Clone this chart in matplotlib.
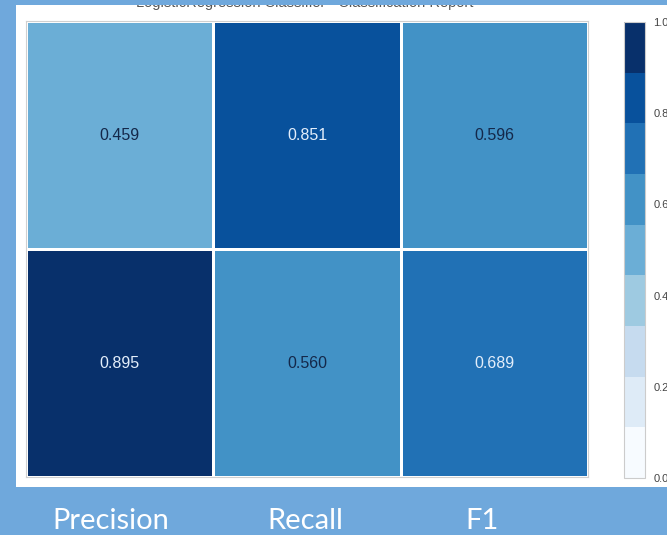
import matplotlib
matplotlib.use("Agg")
import matplotlib.pyplot as plt
from matplotlib.colors import ListedColormap, Normalize
from matplotlib.patches import Rectangle
import numpy as np

# classification report scores (rows = classes, columns = metrics)
metrics = ["Precision", "Recall", "F1"]
classes = ["0", "1"]
scores = [
    [0.459, 0.851, 0.596],
    [0.895, 0.560, 0.689],
]
cbar_ticks = [0.0, 0.2, 0.4, 0.6, 0.8, 1.0]
title = "LogisticRegression Classifier - Classification Report"

# 9-step ColorBrewer Blues
blues9 = ["#f7fbff", "#deebf7", "#c6dbef", "#9ecae1", "#6baed6",
          "#4292c6", "#2171b5", "#08519c", "#08306b"]
cmap = ListedColormap(blues9)
norm = Normalize(vmin=0.0, vmax=1.0)

W, H = 667, 535
fig = plt.figure(figsize=(W / 100, H / 100), dpi=100)
slide_blue = "#6fa8dc"
fig.patch.set_facecolor(slide_blue)


def box(x0, y0, x1, y1):
    """Pixel box (top-left origin) -> figure-fraction rect."""
    return [x0 / W, 1 - y1 / H, (x1 - x0) / W, (y1 - y0) / H]


# white panel holding the report
fig.add_artist(Rectangle((16 / W, 1 - 487 / H), 1.0, (487 - 5) / H,
                         transform=fig.transFigure, facecolor="white",
                         edgecolor="none", zorder=-1))

# report title, mostly hidden under the slide border
fig.text(305 / W, 1 - 7 / H, title, ha="center", va="baseline",
         fontsize=10.5, color="#555555", family="Liberation Sans", zorder=1)
fig.add_artist(Rectangle((0, 1 - 5 / H), 1.0, 5 / H, transform=fig.transFigure,
                         facecolor=slide_blue, edgecolor="none", zorder=10))

# heatmap
ax = fig.add_axes(box(26, 21, 588, 477))
data = np.array(scores)
mesh = ax.pcolormesh(data, cmap=cmap, norm=norm, edgecolors="white",
                     linewidth=2)
ax.set_xlim(0, len(metrics))
ax.set_ylim(len(classes), 0)
ax.set_xticks([])
ax.set_yticks([])
for sp in ax.spines.values():
    sp.set_edgecolor("#d0d0d0")
    sp.set_linewidth(0.8)

for i in range(len(classes)):
    for j in range(len(metrics)):
        v = scores[i][j]
        color = "#e3eefb" if v > 0.65 else "#14284a"
        ax.text(j + 0.5, i + 0.5, f"{v:.3f}", ha="center", va="center",
                fontsize=11.5, color=color, family="Liberation Sans")

# colorbar
cax = fig.add_axes(box(624, 22, 645, 478))
cb = fig.colorbar(mesh, cax=cax, ticks=cbar_ticks)
cb.outline.set_edgecolor("#cccccc")
cb.outline.set_linewidth(0.8)
cax.set_yticklabels([f"{t:.1f}" for t in cbar_ticks])
cax.tick_params(length=0, labelsize=8, labelcolor="#444444", pad=6)
for lab in cax.get_yticklabels():
    lab.set_family("Liberation Sans")

# metric names on the slide below the panel
for name, xc in zip(metrics, [111, 305, 482]):
    fig.text(xc / W, 1 - 521 / H, name, ha="center", va="center",
             fontsize=21, color="white", family="Lato")

fig.savefig("out.png", dpi=100, facecolor=fig.get_facecolor())
